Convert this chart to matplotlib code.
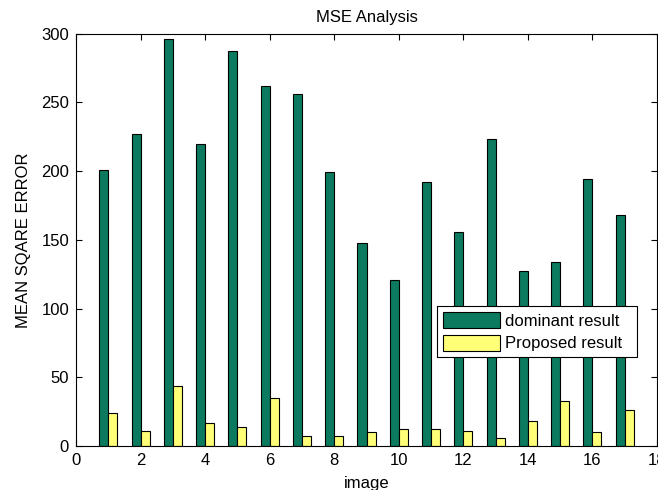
import matplotlib
matplotlib.use("Agg")
import matplotlib.pyplot as plt
from matplotlib.patches import Rectangle
import numpy as np

images = np.arange(1, 18)
dominant = [201, 227, 296, 220, 287, 262, 256, 199, 148, 121, 192, 156, 223, 127, 134, 194, 168]
proposed = [24, 11, 44, 17, 14, 35, 7, 7, 10, 12, 12, 11, 6, 18, 33, 10, 26]

plt.rcParams['font.family'] = ['Liberation Sans', 'DejaVu Sans']

fig = plt.figure(figsize=(6.72, 4.9), dpi=100)
ax = fig.add_axes([0.1131, 0.0898, 0.8646, 0.8418])

w = 0.28
ax.bar(images - w / 2, dominant, w, color='#0b7a5e', edgecolor='black', linewidth=0.8,
       label='dominant result')
ax.bar(images + w / 2, proposed, w, color='#ffff78', edgecolor='black', linewidth=0.8,
       label='Proposed result')

ax.set_xlim(0, 18)
ax.set_ylim(0, 300)
ax.set_xticks(range(0, 19, 2))
ax.set_yticks(range(0, 301, 50))
ax.set_axisbelow(True)
ax.tick_params(direction='in', top=True, right=True, length=4, width=0.8,
               labelsize=12, pad=5)
for s in ax.spines.values():
    s.set_linewidth(0.8)

ax.set_title('MSE Analysis', fontsize=12, pad=8)
ax.set_xlabel('image', fontsize=12, labelpad=6)
ax.set_ylabel('MEAN SQARE ERROR', fontsize=12, labelpad=7)

leg = ax.legend(loc='lower left', bbox_to_anchor=(0.622, 0.215, 0.343, 0.124),
                mode='expand', fontsize=12, fancybox=False, framealpha=1,
                edgecolor='black', handlelength=3.4, handleheight=1.1,
                borderpad=0.35, labelspacing=0.35, handletextpad=0.3,
                borderaxespad=0)
leg.get_frame().set_linewidth(0.8)

# right edge of the original picture is cropped
fig.patches.append(Rectangle((658 / 672, 0), 1, 1, transform=fig.transFigure,
                             facecolor='white', edgecolor='none', zorder=10))

fig.savefig('out.png', dpi=100)
